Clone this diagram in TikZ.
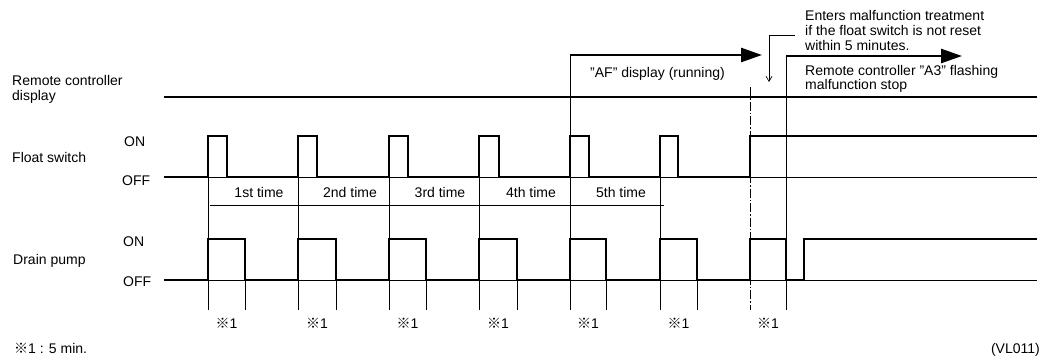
\documentclass[tikz,border=0pt]{standalone}
\usepackage{fontspec}
\setmainfont{Liberation Sans}
\newfontfamily\cjkfont{Noto Sans CJK JP}
\usetikzlibrary{arrows.meta}
\newcommand{\refmk}{{\cjkfont ※}}
\begin{document}
\begin{tikzpicture}[x=1pt,y=-1pt,
  txt/.style={font=\fontsize{14}{15}\selectfont, inner sep=0pt, anchor=base west},
  txtc/.style={txt, anchor=base},
  sig/.style={line width=2.1pt, line join=miter},
  baseln/.style={line width=0.8pt},
  rulel/.style={line width=0.7pt},
  dashdotl/.style={line width=0.8pt, dash pattern=on 9pt off 2pt on 1.5pt off 2pt},
  bigarrow/.style={line width=2.6pt, -{Triangle[length=21pt,width=14pt]}},
  notearrow/.style={line width=0.7pt, -{Straight Barb[length=5pt,width=6pt]}}
]
\useasboundingbox (0,0) rectangle (1052,359);

% ---------- left labels ----------
\node[txt] (rc1) at (12,85) {Remote controller};
\node[txt] (rc2) at (12,100) {display};
\node[txt] (fs) at (12,162) {Float switch};
\node[txt] (fon) at (124,146) {ON};
\node[txt] (foff) at (122,185) {OFF};
\node[txt] (dp) at (13,264) {Drain pump};
\node[txt] (don) at (123,246) {ON};
\node[txt] (doff) at (123,286) {OFF};

% ---------- thin ruling lines ----------
\foreach \x in {208,298,389,479,660} \draw[rulel] (\x,136) -- (\x,310);
\draw[rulel] (570,55) -- (570,310);
\foreach \x in {245,336,426,517,606,697} \draw[rulel] (\x,239) -- (\x,310);
\draw[rulel] (786,56) -- (786,310);
\draw[dashdotl] (750,87) -- (750,310);
\draw[rulel] (210,205) -- (664,205);

% ---------- baselines ----------
\draw[baseln] (164,177) -- (1037,177);
\draw[baseln] (164,280) -- (1037,280);

% ---------- remote controller display ----------
\draw[sig] (164,97) -- (1037,97);

% ---------- float switch ----------
\draw[sig] (164,177) -- (208,177) -- (208,136) -- (227,136) -- (227,177)
  -- (298,177) -- (298,136) -- (317,136) -- (317,177)
  -- (389,177) -- (389,136) -- (408,136) -- (408,177)
  -- (479,177) -- (479,136) -- (499,136) -- (499,177)
  -- (570,177) -- (570,136) -- (589,136) -- (589,177)
  -- (660,177) -- (660,136) -- (678,136) -- (678,177)
  -- (750,177) -- (750,136) -- (1037,136);

% ---------- drain pump ----------
\draw[sig] (164,280) -- (208,280) -- (208,239) -- (245,239) -- (245,280)
  -- (298,280) -- (298,239) -- (336,239) -- (336,280)
  -- (389,280) -- (389,239) -- (426,239) -- (426,280)
  -- (479,280) -- (479,239) -- (517,239) -- (517,280)
  -- (570,280) -- (570,239) -- (606,239) -- (606,280)
  -- (660,280) -- (660,239) -- (697,239) -- (697,280)
  -- (750,280) -- (750,239) -- (786,239) -- (786,280)
  -- (804,280) -- (804,239) -- (1037,239);

% ---------- count labels ----------
\node[txtc] (t1) at (259,197) {1st time};
\node[txtc] (t2) at (350,197) {2nd time};
\node[txtc] (t3) at (440,197) {3rd time};
\node[txtc] (t4) at (531,197) {4th time};
\node[txtc] (t5) at (621,197) {5th time};

% ---------- 5 min marks ----------
\node[txtc] (m1) at (226.5,328) {\refmk1};
\node[txtc] (m2) at (317,328) {\refmk1};
\node[txtc] (m3) at (407.5,328) {\refmk1};
\node[txtc] (m4) at (498,328) {\refmk1};
\node[txtc] (m5) at (588,328) {\refmk1};
\node[txtc] (m6) at (678.5,328) {\refmk1};
\node[txtc] (m7) at (768,328) {\refmk1};

% ---------- display arrows ----------
\coordinate (afs) at (570,55);
\coordinate (afe) at (762,55);
\draw[bigarrow] (afs) -- (afe);
\node[txt] (aftxt) at (590,77) {"AF" display (running)};

\coordinate (a3s) at (786,56);
\coordinate (a3e) at (962,56);
\draw[bigarrow] (a3s) -- (a3e);
\node[txt] (a3a) at (805,75) {Remote controller "A3" flashing};
\node[txt] (a3b) at (805,89) {malfunction stop};

% ---------- note ----------
\node[txt] (n1) at (805,20) {Enters malfunction treatment};
\node[txt] (n2) at (805,35) {if the float switch is not reset};
\node[txt] (n3) at (805,50) {within 5 minutes.};
\coordinate (nstart) at (795,35);
\coordinate (ncorner) at (769,35);
\coordinate (ntip) at (769,82);
\draw[notearrow] (nstart) -- (ncorner) -- (ntip);

% ---------- footer ----------
\node[txt] (foot) at (14,353) {\refmk1 : 5 min.};
\node[txt, anchor=base east] (code) at (1040,353) {(VL011)};
\end{tikzpicture}
\end{document}
